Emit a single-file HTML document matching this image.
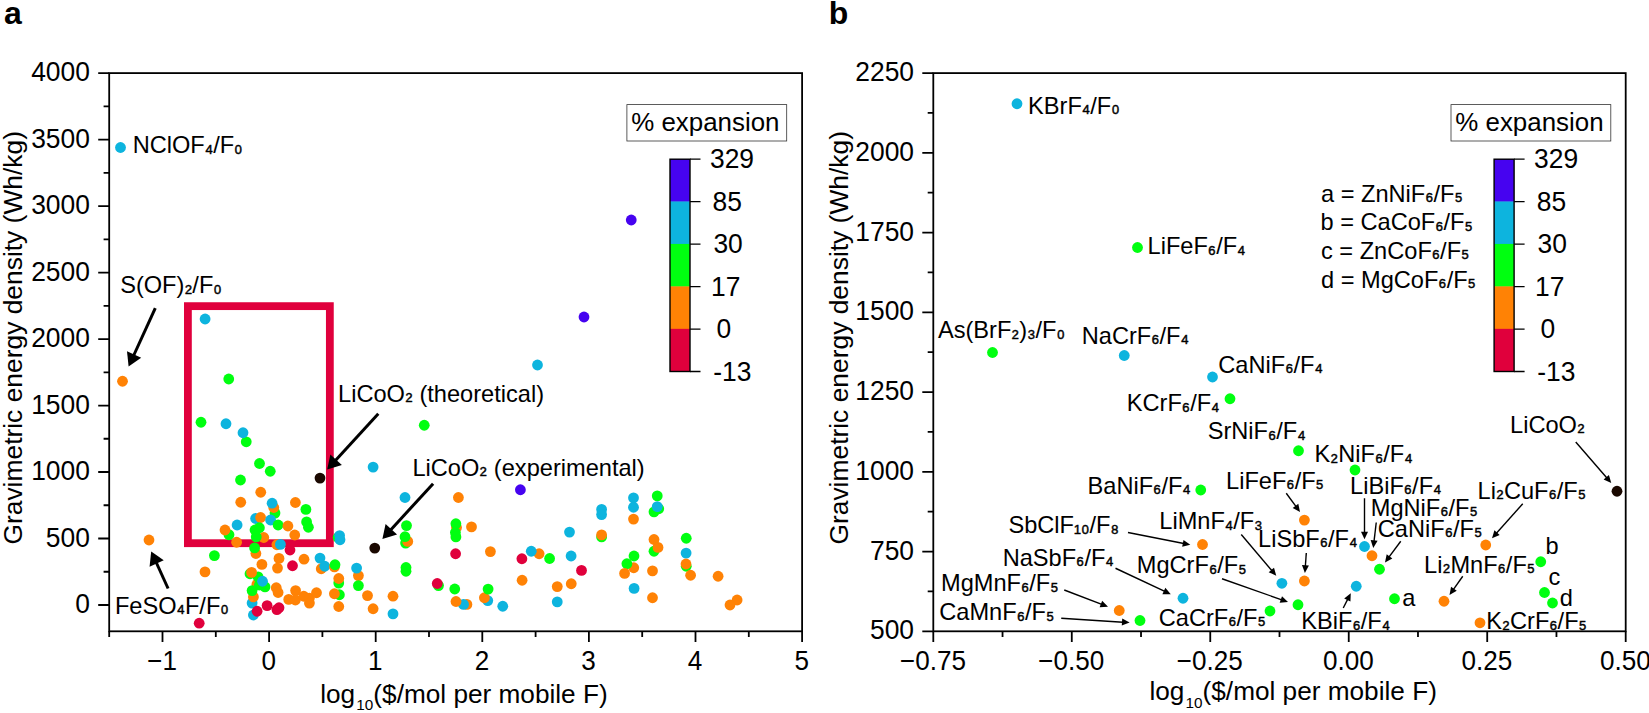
<!DOCTYPE html>
<html lang="en"><head><meta charset="utf-8"><title>Gravimetric energy density vs cost</title>
<style>
html,body{margin:0;padding:0;background:#fff;}
svg{display:block;}
text{font-family:"Liberation Sans",sans-serif;fill:#000;}
.tk{font-size:26.4px;}
.an{font-size:23.6px;}
.sb{font-size:20.5px;stroke:#000;stroke-width:0.45px;}
.pl{font-size:32px;font-weight:bold;}
.s10{font-size:15.3px;}
.ti{font-size:26.2px;}
.tx{font-size:26.1px;}
</style></head><body>
<svg width="1649" height="713" viewBox="0 0 1649 713">
<rect width="1649" height="713" fill="#fff"/>
<text class="pl" x="4.0" y="24.2">a</text>
<rect x="187.9" y="306.15" width="141.95" height="237.05" fill="none" stroke="#E0003C" stroke-width="7.8"/>
<circle cx="120.5" cy="147.5" r="5.4" fill="#0DB4DE"/>
<circle cx="122.5" cy="381.25" r="5.4" fill="#FF8205"/>
<circle cx="205.1" cy="319" r="5.4" fill="#0DB4DE"/>
<circle cx="228.75" cy="379" r="5.4" fill="#00FF10"/>
<circle cx="201" cy="422.25" r="5.4" fill="#00FF10"/>
<circle cx="226" cy="423.75" r="5.4" fill="#0DB4DE"/>
<circle cx="246.25" cy="441.8" r="5.4" fill="#00FF10"/>
<circle cx="243" cy="432.75" r="5.4" fill="#0DB4DE"/>
<circle cx="424.25" cy="425.25" r="5.4" fill="#00FF10"/>
<circle cx="631.25" cy="220" r="5.4" fill="#4603F0"/>
<circle cx="584" cy="317" r="5.4" fill="#4603F0"/>
<circle cx="537.5" cy="365" r="5.4" fill="#0DB4DE"/>
<circle cx="259.5" cy="463.5" r="5.4" fill="#00FF10"/>
<circle cx="270.25" cy="471.25" r="5.4" fill="#00FF10"/>
<circle cx="240.5" cy="480" r="5.4" fill="#00FF10"/>
<circle cx="320" cy="478.1" r="5.4" fill="#1A0800"/>
<circle cx="373.1" cy="467.1" r="5.4" fill="#0DB4DE"/>
<circle cx="260.75" cy="492.25" r="5.4" fill="#FF8205"/>
<circle cx="240.75" cy="502.25" r="5.4" fill="#FF8205"/>
<circle cx="275" cy="513.1" r="5.4" fill="#00FF10"/>
<circle cx="273.75" cy="507.5" r="5.4" fill="#FF8205"/>
<circle cx="272.1" cy="503.2" r="5.4" fill="#0DB4DE"/>
<circle cx="295.4" cy="502.5" r="5.4" fill="#FF8205"/>
<circle cx="305.9" cy="509.4" r="5.4" fill="#00FF10"/>
<circle cx="255.6" cy="518.5" r="5.4" fill="#0DB4DE"/>
<circle cx="260.6" cy="517.5" r="5.4" fill="#FF8205"/>
<circle cx="270.6" cy="520" r="5.4" fill="#0DB4DE"/>
<circle cx="237.1" cy="525" r="5.4" fill="#0DB4DE"/>
<circle cx="278.1" cy="525" r="5.4" fill="#00FF10"/>
<circle cx="287.9" cy="526" r="5.4" fill="#FF8205"/>
<circle cx="306.6" cy="521.9" r="5.4" fill="#00FF10"/>
<circle cx="308.4" cy="527.25" r="5.4" fill="#00FF10"/>
<circle cx="229" cy="534.75" r="5.4" fill="#00FF10"/>
<circle cx="225" cy="530" r="5.4" fill="#FF8205"/>
<circle cx="263.75" cy="537.5" r="5.4" fill="#FF8205"/>
<circle cx="255" cy="530" r="5.4" fill="#00FF10"/>
<circle cx="259.4" cy="527.75" r="5.4" fill="#00FF10"/>
<circle cx="256.25" cy="536.9" r="5.4" fill="#00FF10"/>
<circle cx="294.75" cy="535" r="5.4" fill="#FF8205"/>
<circle cx="236.6" cy="542.25" r="5.4" fill="#FF8205"/>
<circle cx="276.9" cy="544.75" r="5.4" fill="#FF8205"/>
<circle cx="280.4" cy="544.4" r="5.4" fill="#0DB4DE"/>
<circle cx="290" cy="550" r="5.4" fill="#E0003C"/>
<circle cx="255.9" cy="553.5" r="5.4" fill="#FF8205"/>
<circle cx="254.6" cy="547.9" r="5.4" fill="#00FF10"/>
<circle cx="338.1" cy="537.5" r="5.4" fill="#00FF10"/>
<circle cx="339.6" cy="535.6" r="5.4" fill="#0DB4DE"/>
<circle cx="340" cy="539.75" r="5.4" fill="#0DB4DE"/>
<circle cx="374.75" cy="548.1" r="5.4" fill="#1A0800"/>
<circle cx="214.4" cy="555.6" r="5.4" fill="#00FF10"/>
<circle cx="205" cy="571.9" r="5.4" fill="#FF8205"/>
<circle cx="149" cy="540" r="5.4" fill="#FF8205"/>
<circle cx="279" cy="558.4" r="5.4" fill="#FF8205"/>
<circle cx="304" cy="559.2" r="5.4" fill="#FF8205"/>
<circle cx="261.9" cy="564.4" r="5.4" fill="#FF8205"/>
<circle cx="277.5" cy="568.1" r="5.4" fill="#FF8205"/>
<circle cx="292.5" cy="565.75" r="5.4" fill="#E0003C"/>
<circle cx="320" cy="558.1" r="5.4" fill="#0DB4DE"/>
<circle cx="321.25" cy="568.75" r="5.4" fill="#FF8205"/>
<circle cx="324.75" cy="566.25" r="5.4" fill="#0DB4DE"/>
<circle cx="334.4" cy="566.9" r="5.4" fill="#FF8205"/>
<circle cx="335" cy="564.75" r="5.4" fill="#00FF10"/>
<circle cx="358.4" cy="575.6" r="5.4" fill="#FF8205"/>
<circle cx="356.6" cy="568.1" r="5.4" fill="#0DB4DE"/>
<circle cx="358.4" cy="585.6" r="5.4" fill="#00FF10"/>
<circle cx="338.75" cy="583.1" r="5.4" fill="#00FF10"/>
<circle cx="338.75" cy="578.5" r="5.4" fill="#FF8205"/>
<circle cx="250" cy="573.75" r="5.4" fill="#00FF10"/>
<circle cx="256.9" cy="584.4" r="5.4" fill="#FF8205"/>
<circle cx="259.4" cy="585" r="5.4" fill="#00FF10"/>
<circle cx="265" cy="586.9" r="5.4" fill="#00FF10"/>
<circle cx="258.1" cy="576.9" r="5.4" fill="#00FF10"/>
<circle cx="262.5" cy="581.25" r="5.4" fill="#0DB4DE"/>
<circle cx="251.6" cy="572.4" r="5.4" fill="#FF8205"/>
<circle cx="252.1" cy="603.1" r="5.4" fill="#0DB4DE"/>
<circle cx="253.4" cy="596.9" r="5.4" fill="#FF8205"/>
<circle cx="252.1" cy="590.6" r="5.4" fill="#00FF10"/>
<circle cx="253.4" cy="615" r="5.4" fill="#0DB4DE"/>
<circle cx="257.1" cy="611.25" r="5.4" fill="#E0003C"/>
<circle cx="267.1" cy="605.6" r="5.4" fill="#E0003C"/>
<circle cx="276.9" cy="609.6" r="5.4" fill="#E0003C"/>
<circle cx="279" cy="607.75" r="5.4" fill="#E0003C"/>
<circle cx="276.25" cy="587.75" r="5.4" fill="#FF8205"/>
<circle cx="278.1" cy="592.5" r="5.4" fill="#FF8205"/>
<circle cx="295.6" cy="590.6" r="5.4" fill="#FF8205"/>
<circle cx="288.75" cy="599.4" r="5.4" fill="#FF8205"/>
<circle cx="295.4" cy="600" r="5.4" fill="#FF8205"/>
<circle cx="303.75" cy="596.25" r="5.4" fill="#FF8205"/>
<circle cx="309.4" cy="598.1" r="5.4" fill="#FF8205"/>
<circle cx="309.4" cy="603.1" r="5.4" fill="#FF8205"/>
<circle cx="316.5" cy="592.75" r="5.4" fill="#FF8205"/>
<circle cx="339.4" cy="594.75" r="5.4" fill="#00FF10"/>
<circle cx="334.4" cy="593.75" r="5.4" fill="#FF8205"/>
<circle cx="338.75" cy="606.5" r="5.4" fill="#FF8205"/>
<circle cx="367.5" cy="595.6" r="5.4" fill="#FF8205"/>
<circle cx="373.1" cy="608.75" r="5.4" fill="#FF8205"/>
<circle cx="393" cy="596.2" r="5.4" fill="#FF8205"/>
<circle cx="393" cy="613.9" r="5.4" fill="#0DB4DE"/>
<circle cx="199.2" cy="623.2" r="5.4" fill="#E0003C"/>
<circle cx="405" cy="497.5" r="5.4" fill="#0DB4DE"/>
<circle cx="458.4" cy="497.5" r="5.4" fill="#FF8205"/>
<circle cx="520.4" cy="489.75" r="5.4" fill="#4603F0"/>
<circle cx="406.5" cy="525.6" r="5.4" fill="#00FF10"/>
<circle cx="405.6" cy="543.1" r="5.4" fill="#00FF10"/>
<circle cx="407.75" cy="541.4" r="5.4" fill="#FF8205"/>
<circle cx="405" cy="536.7" r="5.4" fill="#00FF10"/>
<circle cx="456.5" cy="527.5" r="5.4" fill="#FF8205"/>
<circle cx="455.9" cy="523.75" r="5.4" fill="#00FF10"/>
<circle cx="455.4" cy="532.5" r="5.4" fill="#00FF10"/>
<circle cx="455.9" cy="536.9" r="5.4" fill="#00FF10"/>
<circle cx="471.5" cy="526.9" r="5.4" fill="#FF8205"/>
<circle cx="569.5" cy="532.1" r="5.4" fill="#0DB4DE"/>
<circle cx="455.6" cy="553.75" r="5.4" fill="#E0003C"/>
<circle cx="490.4" cy="551.6" r="5.4" fill="#FF8205"/>
<circle cx="521.9" cy="558.75" r="5.4" fill="#E0003C"/>
<circle cx="539.1" cy="553.75" r="5.4" fill="#FF8205"/>
<circle cx="531.25" cy="551.25" r="5.4" fill="#0DB4DE"/>
<circle cx="549.6" cy="558.5" r="5.4" fill="#00FF10"/>
<circle cx="571.1" cy="556" r="5.4" fill="#0DB4DE"/>
<circle cx="581.5" cy="570.4" r="5.4" fill="#E0003C"/>
<circle cx="406" cy="567.5" r="5.4" fill="#00FF10"/>
<circle cx="406" cy="571.25" r="5.4" fill="#00FF10"/>
<circle cx="438.5" cy="585.6" r="5.4" fill="#00FF10"/>
<circle cx="437.25" cy="583.5" r="5.4" fill="#E0003C"/>
<circle cx="454.75" cy="589" r="5.4" fill="#00FF10"/>
<circle cx="487.75" cy="600.6" r="5.4" fill="#0DB4DE"/>
<circle cx="484.4" cy="597.75" r="5.4" fill="#FF8205"/>
<circle cx="488.1" cy="589.1" r="5.4" fill="#00FF10"/>
<circle cx="522.1" cy="580.25" r="5.4" fill="#FF8205"/>
<circle cx="557.25" cy="586.6" r="5.4" fill="#FF8205"/>
<circle cx="571.25" cy="583.75" r="5.4" fill="#FF8205"/>
<circle cx="557.25" cy="601.9" r="5.4" fill="#0DB4DE"/>
<circle cx="466.9" cy="604.4" r="5.4" fill="#FF8205"/>
<circle cx="463.5" cy="604.4" r="5.4" fill="#0DB4DE"/>
<circle cx="456" cy="601.5" r="5.4" fill="#FF8205"/>
<circle cx="502.75" cy="606.25" r="5.4" fill="#0DB4DE"/>
<circle cx="601.6" cy="509.4" r="5.4" fill="#0DB4DE"/>
<circle cx="601.6" cy="514.6" r="5.4" fill="#0DB4DE"/>
<circle cx="601.6" cy="536.9" r="5.4" fill="#00FF10"/>
<circle cx="601.6" cy="534.9" r="5.4" fill="#FF8205"/>
<circle cx="633.5" cy="497.9" r="5.4" fill="#0DB4DE"/>
<circle cx="633.5" cy="507.25" r="5.4" fill="#0DB4DE"/>
<circle cx="633.5" cy="519.1" r="5.4" fill="#FF8205"/>
<circle cx="657.25" cy="495.9" r="5.4" fill="#00FF10"/>
<circle cx="658.75" cy="508.75" r="5.4" fill="#00FF10"/>
<circle cx="654" cy="511.9" r="5.4" fill="#00FF10"/>
<circle cx="657.25" cy="506.6" r="5.4" fill="#0DB4DE"/>
<circle cx="654" cy="539.5" r="5.4" fill="#FF8205"/>
<circle cx="654" cy="551.25" r="5.4" fill="#00FF10"/>
<circle cx="658" cy="547.4" r="5.4" fill="#FF8205"/>
<circle cx="686.25" cy="538.25" r="5.4" fill="#00FF10"/>
<circle cx="686.1" cy="553.1" r="5.4" fill="#0DB4DE"/>
<circle cx="686.25" cy="566.25" r="5.4" fill="#00FF10"/>
<circle cx="686" cy="564" r="5.4" fill="#FF8205"/>
<circle cx="690.6" cy="575.25" r="5.4" fill="#FF8205"/>
<circle cx="718.1" cy="576.25" r="5.4" fill="#FF8205"/>
<circle cx="737.1" cy="600" r="5.4" fill="#FF8205"/>
<circle cx="730" cy="605" r="5.4" fill="#FF8205"/>
<circle cx="634" cy="556" r="5.4" fill="#00FF10"/>
<circle cx="633.75" cy="567.75" r="5.4" fill="#FF8205"/>
<circle cx="626.9" cy="563.75" r="5.4" fill="#00FF10"/>
<circle cx="624.6" cy="573.4" r="5.4" fill="#FF8205"/>
<circle cx="634.1" cy="588.4" r="5.4" fill="#0DB4DE"/>
<circle cx="652.5" cy="570.9" r="5.4" fill="#FF8205"/>
<circle cx="652.5" cy="597.75" r="5.4" fill="#FF8205"/>
<rect x="109.2" y="73.1" width="692.9" height="558.2" fill="none" stroke="#000" stroke-width="1.8"/>
<text class="tx" text-anchor="middle" transform="translate(162.1,669.8) scale(1,1.04)">−1</text>
<text class="tx" text-anchor="middle" transform="translate(268.7,669.8) scale(1,1.04)">0</text>
<text class="tx" text-anchor="middle" transform="translate(375.3,669.8) scale(1,1.04)">1</text>
<text class="tx" text-anchor="middle" transform="translate(481.9,669.8) scale(1,1.04)">2</text>
<text class="tx" text-anchor="middle" transform="translate(588.5,669.8) scale(1,1.04)">3</text>
<text class="tx" text-anchor="middle" transform="translate(695.1,669.8) scale(1,1.04)">4</text>
<text class="tx" text-anchor="middle" transform="translate(801.7,669.8) scale(1,1.04)">5</text>
<text class="tk" text-anchor="end" transform="translate(89.9,613.1) scale(1,1.04)">0</text>
<text class="tk" text-anchor="end" transform="translate(89.9,546.61) scale(1,1.04)">500</text>
<text class="tk" text-anchor="end" transform="translate(89.9,480.12) scale(1,1.04)">1000</text>
<text class="tk" text-anchor="end" transform="translate(89.9,413.63) scale(1,1.04)">1500</text>
<text class="tk" text-anchor="end" transform="translate(89.9,347.14) scale(1,1.04)">2000</text>
<text class="tk" text-anchor="end" transform="translate(89.9,280.65) scale(1,1.04)">2500</text>
<text class="tk" text-anchor="end" transform="translate(89.9,214.16) scale(1,1.04)">3000</text>
<text class="tk" text-anchor="end" transform="translate(89.9,147.67) scale(1,1.04)">3500</text>
<text class="tk" text-anchor="end" transform="translate(89.9,81.18) scale(1,1.04)">4000</text>
<path d="M162.5 631.3V642.1M269.1 631.3V642.1M375.7 631.3V642.1M482.3 631.3V642.1M588.9 631.3V642.1M695.5 631.3V642.1M802.1 631.3V642.1M109.2 631.3V636.9M215.8 631.3V636.9M322.4 631.3V636.9M429 631.3V636.9M535.6 631.3V636.9M642.2 631.3V636.9M748.8 631.3V636.9M109.2 605H98.2M109.2 538.51H98.2M109.2 472.02H98.2M109.2 405.53H98.2M109.2 339.04H98.2M109.2 272.55H98.2M109.2 206.06H98.2M109.2 139.57H98.2M109.2 73.08H98.2M109.2 571.75H103.6M109.2 505.26H103.6M109.2 438.77H103.6M109.2 372.29H103.6M109.2 305.8H103.6M109.2 239.31H103.6M109.2 172.82H103.6M109.2 106.33H103.6" stroke="#000" stroke-width="1.8" fill="none"/>
<text class="ti" x="320.2" y="702.6">log<tspan class="s10" dx="1.2" dy="7.8">10</tspan><tspan dy="-7.8">(</tspan>$/mol per mobile F)</text>
<text class="tk" text-anchor="middle" transform="translate(22,337.8) rotate(-90)">Gravimetric energy density (Wh/kg)</text>
<rect x="670" y="159" width="20" height="42.86" fill="#4603F0"/>
<rect x="670" y="201.46" width="20" height="42.86" fill="#0DB4DE"/>
<rect x="670" y="243.92" width="20" height="42.86" fill="#00FF10"/>
<rect x="670" y="286.38" width="20" height="42.86" fill="#FF8205"/>
<rect x="670" y="328.84" width="20" height="42.86" fill="#E0003C"/>
<rect x="670" y="159.2" width="20" height="212.3" fill="none" stroke="#000" stroke-width="1.4"/>
<path d="M690 159.2H700.5M690 201.66H700.5M690 244.12H700.5M690 286.58H700.5M690 329.04H700.5M690 371.5H700.5" stroke="#000" stroke-width="1.3" fill="none"/>
<text class="tk" transform="translate(710,168.4) scale(1,1.04)">329</text>
<text class="tk" transform="translate(712.6,210.86) scale(1,1.04)">85</text>
<text class="tk" transform="translate(713.4,253.32) scale(1,1.04)">30</text>
<text class="tk" transform="translate(711,295.78) scale(1,1.04)">17</text>
<text class="tk" transform="translate(716.4,338.24) scale(1,1.04)">0</text>
<text class="tk" transform="translate(713.2,380.7) scale(1,1.04)">-13</text>
<rect x="626.9" y="104.6" width="159.8" height="36.4" fill="#fff" stroke="#333" stroke-width="0.8"/>
<text class="tk" style="font-size:25.9px" x="631.2" y="131.4">% expansion</text>
<line x1="155.3" y1="308.2" x2="133.67" y2="355.5" stroke="#000" stroke-width="3"/>
<polygon points="128.6,366.6 126.99,351.35 141.18,357.84" fill="#000"/>
<line x1="378.3" y1="413.7" x2="335.44" y2="460.5" stroke="#000" stroke-width="3"/>
<polygon points="327.2,469.5 330.36,454.5 341.87,465.03" fill="#000"/>
<line x1="433.1" y1="483.7" x2="390.65" y2="529.91" stroke="#000" stroke-width="3"/>
<polygon points="382.4,538.9 385.58,523.9 397.07,534.45" fill="#000"/>
<line x1="168.1" y1="588.5" x2="156.26" y2="562.5" stroke="#000" stroke-width="3"/>
<polygon points="151.2,551.4 163.77,560.18 149.57,566.65" fill="#000"/>
<text class="an" x="132.66" y="153.1">NClOF<tspan class="sb" dy="-1.5">₄</tspan><tspan dy="1.5">/F</tspan><tspan class="sb" dy="-1.5">₀</tspan></text>
<text class="an" x="120.18" y="293">S(OF)<tspan class="sb" dy="-1.5">₂</tspan><tspan dy="1.5">/F</tspan><tspan class="sb" dy="-1.5">₀</tspan></text>
<text class="an" x="338.06" y="401.9">LiCoO<tspan class="sb" dy="-1.5">₂</tspan><tspan dy="1.5"> (theoretical)</tspan></text>
<text class="an" x="412.46" y="475.5">LiCoO<tspan class="sb" dy="-1.5">₂</tspan><tspan dy="1.5"> (experimental)</tspan></text>
<text class="an" x="114.96" y="613.9">FeSO<tspan class="sb" dy="-1.5">₄</tspan><tspan dy="1.5">F/F</tspan><tspan class="sb" dy="-1.5">₀</tspan></text>
<text class="pl" x="828.7" y="24.2">b</text>
<circle cx="1017" cy="103.75" r="5.4" fill="#0DB4DE"/>
<circle cx="1137.5" cy="247.5" r="5.4" fill="#00FF10"/>
<circle cx="992.5" cy="352.5" r="5.4" fill="#00FF10"/>
<circle cx="1124.25" cy="355.5" r="5.4" fill="#0DB4DE"/>
<circle cx="1212.5" cy="377" r="5.4" fill="#0DB4DE"/>
<circle cx="1230" cy="398.75" r="5.4" fill="#00FF10"/>
<circle cx="1298.5" cy="450.75" r="5.4" fill="#00FF10"/>
<circle cx="1355" cy="470" r="5.4" fill="#00FF10"/>
<circle cx="1200.75" cy="490" r="5.4" fill="#00FF10"/>
<circle cx="1304.4" cy="520.1" r="5.4" fill="#FF8205"/>
<circle cx="1202.5" cy="544.5" r="5.4" fill="#FF8205"/>
<circle cx="1281.9" cy="583.3" r="5.4" fill="#0DB4DE"/>
<circle cx="1304.4" cy="581" r="5.4" fill="#FF8205"/>
<circle cx="1183" cy="598.25" r="5.4" fill="#0DB4DE"/>
<circle cx="1119.25" cy="610.5" r="5.4" fill="#FF8205"/>
<circle cx="1140" cy="620.5" r="5.4" fill="#00FF10"/>
<circle cx="1270" cy="611" r="5.4" fill="#00FF10"/>
<circle cx="1298" cy="604.75" r="5.4" fill="#00FF10"/>
<circle cx="1364.5" cy="546.5" r="5.4" fill="#0DB4DE"/>
<circle cx="1372" cy="555.75" r="5.4" fill="#FF8205"/>
<circle cx="1379.5" cy="569.25" r="5.4" fill="#00FF10"/>
<circle cx="1485.75" cy="545" r="5.4" fill="#FF8205"/>
<circle cx="1540.75" cy="561.75" r="5.4" fill="#00FF10"/>
<circle cx="1617" cy="491.25" r="5.4" fill="#1A0800"/>
<circle cx="1356.25" cy="586.25" r="5.4" fill="#0DB4DE"/>
<circle cx="1394.5" cy="598.75" r="5.4" fill="#00FF10"/>
<circle cx="1444" cy="601.25" r="5.4" fill="#FF8205"/>
<circle cx="1480" cy="622.8" r="5.4" fill="#FF8205"/>
<circle cx="1544.5" cy="592.5" r="5.4" fill="#00FF10"/>
<circle cx="1552.5" cy="603" r="5.4" fill="#00FF10"/>
<rect x="933.3" y="73.1" width="692.4" height="558.2" fill="none" stroke="#000" stroke-width="1.8"/>
<text class="tx" text-anchor="middle" transform="translate(932.9,669.8) scale(1,1.04)">−0.75</text>
<text class="tx" text-anchor="middle" transform="translate(1071.38,669.8) scale(1,1.04)">−0.50</text>
<text class="tx" text-anchor="middle" transform="translate(1209.86,669.8) scale(1,1.04)">−0.25</text>
<text class="tx" text-anchor="middle" transform="translate(1348.34,669.8) scale(1,1.04)">0.00</text>
<text class="tx" text-anchor="middle" transform="translate(1486.82,669.8) scale(1,1.04)">0.25</text>
<text class="tx" text-anchor="middle" transform="translate(1625.3,669.8) scale(1,1.04)">0.50</text>
<text class="tk" text-anchor="end" transform="translate(914,639.4) scale(1,1.04)">500</text>
<text class="tk" text-anchor="end" transform="translate(914,559.66) scale(1,1.04)">750</text>
<text class="tk" text-anchor="end" transform="translate(914,479.91) scale(1,1.04)">1000</text>
<text class="tk" text-anchor="end" transform="translate(914,400.17) scale(1,1.04)">1250</text>
<text class="tk" text-anchor="end" transform="translate(914,320.43) scale(1,1.04)">1500</text>
<text class="tk" text-anchor="end" transform="translate(914,240.69) scale(1,1.04)">1750</text>
<text class="tk" text-anchor="end" transform="translate(914,160.94) scale(1,1.04)">2000</text>
<text class="tk" text-anchor="end" transform="translate(914,81.2) scale(1,1.04)">2250</text>
<path d="M933.3 631.3V642.1M1071.78 631.3V642.1M1210.26 631.3V642.1M1348.74 631.3V642.1M1487.22 631.3V642.1M1625.7 631.3V642.1M1002.54 631.3V636.9M1141.02 631.3V636.9M1279.5 631.3V636.9M1417.98 631.3V636.9M1556.46 631.3V636.9M933.3 631.3H922.3M933.3 551.56H922.3M933.3 471.81H922.3M933.3 392.07H922.3M933.3 312.33H922.3M933.3 232.59H922.3M933.3 152.84H922.3M933.3 73.1H922.3M933.3 591.43H927.7M933.3 511.69H927.7M933.3 431.94H927.7M933.3 352.2H927.7M933.3 272.46H927.7M933.3 192.71H927.7M933.3 112.97H927.7" stroke="#000" stroke-width="1.8" fill="none"/>
<text class="ti" x="1149.4" y="699.8">log<tspan class="s10" dx="1.2" dy="7.8">10</tspan><tspan dy="-7.8">(</tspan>$/mol per mobile F)</text>
<text class="tk" text-anchor="middle" transform="translate(848,337.8) rotate(-90)">Gravimetric energy density (Wh/kg)</text>
<rect x="1494.1" y="159" width="20" height="42.86" fill="#4603F0"/>
<rect x="1494.1" y="201.46" width="20" height="42.86" fill="#0DB4DE"/>
<rect x="1494.1" y="243.92" width="20" height="42.86" fill="#00FF10"/>
<rect x="1494.1" y="286.38" width="20" height="42.86" fill="#FF8205"/>
<rect x="1494.1" y="328.84" width="20" height="42.86" fill="#E0003C"/>
<rect x="1494.1" y="159.2" width="20" height="212.3" fill="none" stroke="#000" stroke-width="1.4"/>
<path d="M1514.1 159.2H1524.6M1514.1 201.66H1524.6M1514.1 244.12H1524.6M1514.1 286.58H1524.6M1514.1 329.04H1524.6M1514.1 371.5H1524.6" stroke="#000" stroke-width="1.3" fill="none"/>
<text class="tk" transform="translate(1534.1,168.4) scale(1,1.04)">329</text>
<text class="tk" transform="translate(1536.7,210.86) scale(1,1.04)">85</text>
<text class="tk" transform="translate(1537.5,253.32) scale(1,1.04)">30</text>
<text class="tk" transform="translate(1535.1,295.78) scale(1,1.04)">17</text>
<text class="tk" transform="translate(1540.5,338.24) scale(1,1.04)">0</text>
<text class="tk" transform="translate(1537.3,380.7) scale(1,1.04)">-13</text>
<rect x="1451" y="104.6" width="159.8" height="36.4" fill="#fff" stroke="#333" stroke-width="0.8"/>
<text class="tk" style="font-size:25.9px" x="1455.3" y="131.4">% expansion</text>
<line x1="1128" y1="532.5" x2="1183.82" y2="543.52" stroke="#000" stroke-width="1.4"/>
<polygon points="1190.3,544.8 1182.17,546.76 1183.52,539.89" fill="#000"/>
<line x1="1241.25" y1="534.5" x2="1271.98" y2="570.72" stroke="#000" stroke-width="1.4"/>
<polygon points="1276.25,575.75 1268.66,572.22 1274,567.69" fill="#000"/>
<line x1="1306.3" y1="553" x2="1305.36" y2="566.32" stroke="#000" stroke-width="1.4"/>
<polygon points="1304.9,572.9 1301.94,565.07 1308.92,565.56" fill="#000"/>
<line x1="1115.5" y1="568.25" x2="1164.78" y2="591.44" stroke="#000" stroke-width="1.4"/>
<polygon points="1170.75,594.25 1162.38,594.18 1165.36,587.85" fill="#000"/>
<line x1="1222" y1="578.75" x2="1281.77" y2="599.81" stroke="#000" stroke-width="1.4"/>
<polygon points="1288,602 1279.67,602.78 1281.99,596.17" fill="#000"/>
<line x1="1064.25" y1="590" x2="1101.84" y2="604.39" stroke="#000" stroke-width="1.4"/>
<polygon points="1108,606.75 1099.65,607.3 1102.15,600.76" fill="#000"/>
<line x1="1061.25" y1="618.25" x2="1123.01" y2="622.18" stroke="#000" stroke-width="1.4"/>
<polygon points="1129.6,622.6 1121.79,625.61 1122.24,618.62" fill="#000"/>
<line x1="1575.75" y1="442" x2="1606.93" y2="478.01" stroke="#000" stroke-width="1.4"/>
<polygon points="1611.25,483 1603.63,479.55 1608.92,474.96" fill="#000"/>
<line x1="1522.75" y1="503.75" x2="1496.39" y2="533.32" stroke="#000" stroke-width="1.4"/>
<polygon points="1492,538.25 1494.44,530.25 1499.67,534.91" fill="#000"/>
<line x1="1286.25" y1="493.25" x2="1296.1" y2="506.68" stroke="#000" stroke-width="1.4"/>
<polygon points="1300,512 1292.68,507.94 1298.33,503.8" fill="#000"/>
<line x1="1364.5" y1="498.25" x2="1364.5" y2="532.65" stroke="#000" stroke-width="1.4"/>
<polygon points="1364.5,539.25 1361,531.65 1368,531.65" fill="#000"/>
<line x1="1376.25" y1="522.5" x2="1374.02" y2="541.45" stroke="#000" stroke-width="1.4"/>
<polygon points="1373.25,548 1370.66,540.04 1377.61,540.86" fill="#000"/>
<line x1="1400.75" y1="541.25" x2="1388.93" y2="557.2" stroke="#000" stroke-width="1.4"/>
<polygon points="1385,562.5 1386.71,554.31 1392.34,558.48" fill="#000"/>
<line x1="1343.25" y1="608" x2="1347.76" y2="599.13" stroke="#000" stroke-width="1.4"/>
<polygon points="1350.75,593.25 1350.43,601.61 1344.19,598.44" fill="#000"/>
<line x1="1462.75" y1="576.25" x2="1453.31" y2="589.61" stroke="#000" stroke-width="1.4"/>
<polygon points="1449.5,595 1451.03,586.77 1456.74,590.81" fill="#000"/>
<text class="an" x="1028.06" y="113.5">KBrF<tspan class="sb" dy="-1.5">₄</tspan><tspan dy="1.5">/F</tspan><tspan class="sb" dy="-1.5">₀</tspan></text>
<text class="an" x="1147.56" y="254.25">LiFeF<tspan class="sb" dy="-1.5">₆</tspan><tspan dy="1.5">/F</tspan><tspan class="sb" dy="-1.5">₄</tspan></text>
<text class="an" x="937.95" y="338">As(BrF<tspan class="sb" dy="-1.5">₂</tspan><tspan dy="1.5">)</tspan><tspan class="sb" dy="-1.5">₃</tspan><tspan dy="1.5">/F</tspan><tspan class="sb" dy="-1.5">₀</tspan></text>
<text class="an" x="1081.81" y="343.5">NaCrF<tspan class="sb" dy="-1.5">₆</tspan><tspan dy="1.5">/F</tspan><tspan class="sb" dy="-1.5">₄</tspan></text>
<text class="an" x="1218.3" y="372.7">CaNiF<tspan class="sb" dy="-1.5">₆</tspan><tspan dy="1.5">/F</tspan><tspan class="sb" dy="-1.5">₄</tspan></text>
<text class="an" x="1126.81" y="411.25">KCrF<tspan class="sb" dy="-1.5">₆</tspan><tspan dy="1.5">/F</tspan><tspan class="sb" dy="-1.5">₄</tspan></text>
<text class="an" x="1207.68" y="439.25">SrNiF<tspan class="sb" dy="-1.5">₆</tspan><tspan dy="1.5">/F</tspan><tspan class="sb" dy="-1.5">₄</tspan></text>
<text class="an" x="1314.46" y="462.4">K<tspan class="sb" dy="-1.5">₂</tspan><tspan dy="1.5">NiF</tspan><tspan class="sb" dy="-1.5">₆</tspan><tspan dy="1.5">/F</tspan><tspan class="sb" dy="-1.5">₄</tspan></text>
<text class="an" x="1087.56" y="493.75">BaNiF<tspan class="sb" dy="-1.5">₆</tspan><tspan dy="1.5">/F</tspan><tspan class="sb" dy="-1.5">₄</tspan></text>
<text class="an" x="1226.06" y="488.75">LiFeF<tspan class="sb" dy="-1.5">₆</tspan><tspan dy="1.5">/F</tspan><tspan class="sb" dy="-1.5">₅</tspan></text>
<text class="an" x="1008.43" y="533.25">SbClF<tspan class="sb" dy="-1.5">₁₀</tspan><tspan dy="1.5">/F</tspan><tspan class="sb" dy="-1.5">₈</tspan></text>
<text class="an" x="1159.31" y="529.25">LiMnF<tspan class="sb" dy="-1.5">₄</tspan><tspan dy="1.5">/F</tspan><tspan class="sb" dy="-1.5">₃</tspan></text>
<text class="an" x="1258.06" y="546.5">LiSbF<tspan class="sb" dy="-1.5">₆</tspan><tspan dy="1.5">/F</tspan><tspan class="sb" dy="-1.5">₄</tspan></text>
<text class="an" x="1002.66" y="565.5">NaSbF<tspan class="sb" dy="-1.5">₆</tspan><tspan dy="1.5">/F</tspan><tspan class="sb" dy="-1.5">₄</tspan></text>
<text class="an" x="1136.81" y="573">MgCrF<tspan class="sb" dy="-1.5">₆</tspan><tspan dy="1.5">/F</tspan><tspan class="sb" dy="-1.5">₅</tspan></text>
<text class="an" x="941.06" y="591">MgMnF<tspan class="sb" dy="-1.5">₆</tspan><tspan dy="1.5">/F</tspan><tspan class="sb" dy="-1.5">₅</tspan></text>
<text class="an" x="939.3" y="620">CaMnF<tspan class="sb" dy="-1.5">₆</tspan><tspan dy="1.5">/F</tspan><tspan class="sb" dy="-1.5">₅</tspan></text>
<text class="an" x="1158.8" y="625.5">CaCrF<tspan class="sb" dy="-1.5">₆</tspan><tspan dy="1.5">/F</tspan><tspan class="sb" dy="-1.5">₅</tspan></text>
<text class="an" x="1301.31" y="629.25">KBiF<tspan class="sb" dy="-1.5">₆</tspan><tspan dy="1.5">/F</tspan><tspan class="sb" dy="-1.5">₄</tspan></text>
<text class="an" x="1486.31" y="629.25">K<tspan class="sb" dy="-1.5">₂</tspan><tspan dy="1.5">CrF</tspan><tspan class="sb" dy="-1.5">₆</tspan><tspan dy="1.5">/F</tspan><tspan class="sb" dy="-1.5">₅</tspan></text>
<text class="an" x="1350.06" y="493.75">LiBiF<tspan class="sb" dy="-1.5">₆</tspan><tspan dy="1.5">/F</tspan><tspan class="sb" dy="-1.5">₄</tspan></text>
<text class="an" x="1370.81" y="515.5">MgNiF<tspan class="sb" dy="-1.5">₆</tspan><tspan dy="1.5">/F</tspan><tspan class="sb" dy="-1.5">₅</tspan></text>
<text class="an" x="1377.8" y="536.75">CaNiF<tspan class="sb" dy="-1.5">₆</tspan><tspan dy="1.5">/F</tspan><tspan class="sb" dy="-1.5">₅</tspan></text>
<text class="an" x="1477.56" y="498.5">Li<tspan class="sb" dy="-1.5">₂</tspan><tspan dy="1.5">CuF</tspan><tspan class="sb" dy="-1.5">₆</tspan><tspan dy="1.5">/F</tspan><tspan class="sb" dy="-1.5">₅</tspan></text>
<text class="an" x="1510.06" y="432.5">LiCoO<tspan class="sb" dy="-1.5">₂</tspan></text>
<text class="an" x="1424.06" y="572.5">Li<tspan class="sb" dy="-1.5">₂</tspan><tspan dy="1.5">MnF</tspan><tspan class="sb" dy="-1.5">₆</tspan><tspan dy="1.5">/F</tspan><tspan class="sb" dy="-1.5">₅</tspan></text>
<text class="an" x="1402.25" y="605.5">a</text>
<text class="an" x="1545.48" y="554">b</text>
<text class="an" x="1548.5" y="585">c</text>
<text class="an" x="1559.76" y="605.5">d</text>
<text class="an" x="1321" y="201.75">a = ZnNiF<tspan class="sb" dy="-1.5">₆</tspan><tspan dy="1.5">/F</tspan><tspan class="sb" dy="-1.5">₅</tspan></text>
<text class="an" x="1320.48" y="230.25">b = CaCoF<tspan class="sb" dy="-1.5">₆</tspan><tspan dy="1.5">/F</tspan><tspan class="sb" dy="-1.5">₅</tspan></text>
<text class="an" x="1321" y="258.75">c = ZnCoF<tspan class="sb" dy="-1.5">₆</tspan><tspan dy="1.5">/F</tspan><tspan class="sb" dy="-1.5">₅</tspan></text>
<text class="an" x="1321.01" y="287.5">d = MgCoF<tspan class="sb" dy="-1.5">₆</tspan><tspan dy="1.5">/F</tspan><tspan class="sb" dy="-1.5">₅</tspan></text>
</svg></body></html>
